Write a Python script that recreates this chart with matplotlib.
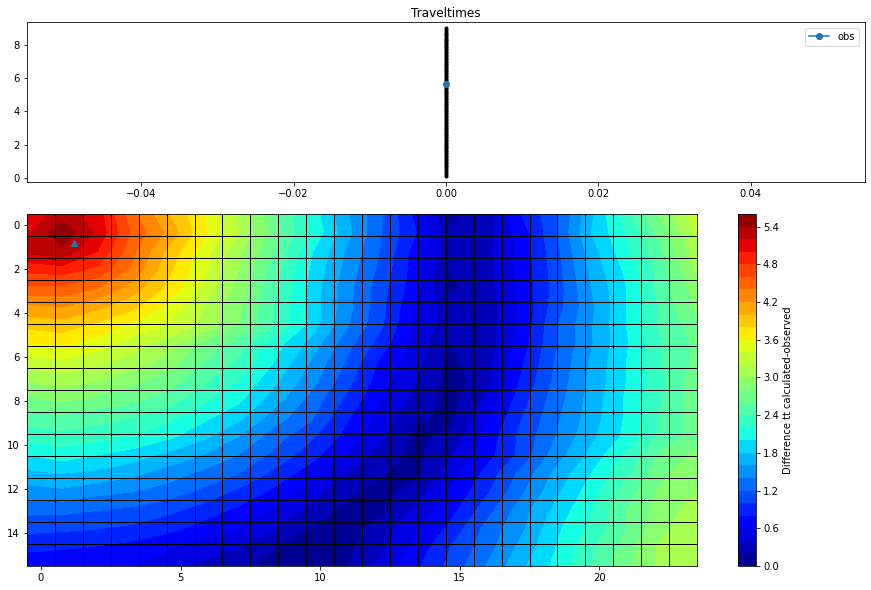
import numpy as np
import matplotlib
matplotlib.use('Agg')
import matplotlib.pyplot as plt

# ========== Data ==========

receiver_depths = [0.09, 0.22, 0.34, 0.46, 0.58, 0.68, 0.77, 0.86, 0.95, 1.04, 1.13, 1.22, 1.31, 1.4, 1.49,
                   1.58, 1.67, 1.76, 1.85, 1.94, 2.03, 2.12, 2.21, 2.3, 2.39, 2.48, 2.57, 2.66, 2.75, 2.84,
                   2.93, 3.02, 3.11, 3.2, 3.29, 3.38, 3.47, 3.56, 3.65, 3.74, 3.83, 3.92, 4.01, 4.1, 4.19,
                   4.28, 4.37, 4.46, 4.55, 4.64, 4.73, 4.82, 4.91, 5.0, 5.09, 5.18, 5.27, 5.36, 5.45, 5.54,
                   5.63, 5.72, 5.81, 5.9, 5.99, 6.08, 6.17, 6.26, 6.35, 6.44, 6.53, 6.62, 6.71, 6.8, 6.89,
                   6.98, 7.07, 7.16, 7.25, 7.34, 7.43, 7.52, 7.61, 7.7, 7.79, 7.88, 7.97, 8.06, 8.15, 8.24,
                   8.33, 8.42, 8.52, 8.62, 8.72, 8.84, 8.95, 9.06]
obs_x = [0.0]
obs_y = [5.65]
source_x = [1.18]
source_y = [0.82]

tt_diff = [
    [5.05, 5.30, 5.10, 4.45, 4.00, 3.60, 3.15, 2.65, 2.15, 1.65, 1.25, 0.75, 0.15, 0.25, 0.80, 1.15, 1.75, 2.35, 2.85, 3.35],
    [5.15, 5.55, 5.15, 4.55, 4.15, 3.65, 3.20, 2.70, 2.20, 1.70, 1.22, 0.82, 0.25, 0.32, 0.68, 1.17, 1.80, 2.20, 2.70, 3.25],
    [5.25, 5.35, 5.00, 4.45, 3.95, 3.50, 3.05, 2.60, 2.05, 1.60, 1.20, 0.72, 0.25, 0.33, 0.66, 1.13, 1.70, 2.15, 2.60, 3.10],
    [4.85, 4.90, 4.75, 4.35, 3.85, 3.45, 3.00, 2.50, 2.00, 1.55, 1.15, 0.70, 0.20, 0.33, 0.65, 1.10, 1.65, 2.05, 2.50, 3.05],
    [4.55, 4.55, 4.40, 4.10, 3.75, 3.35, 2.90, 2.45, 1.95, 1.50, 1.10, 0.68, 0.15, 0.32, 0.64, 1.08, 1.60, 2.00, 2.50, 2.90],
    [4.15, 4.20, 4.05, 3.85, 3.55, 3.20, 2.85, 2.40, 1.95, 1.50, 1.08, 0.60, 0.30, 0.27, 0.62, 1.10, 1.55, 2.00, 2.45, 2.85],
    [3.85, 3.90, 3.75, 3.55, 3.40, 3.15, 2.80, 2.40, 1.95, 1.45, 1.05, 0.55, 0.30, 0.30, 0.62, 1.18, 1.58, 2.00, 2.45, 2.70],
    [3.60, 3.65, 3.50, 3.30, 3.10, 2.75, 2.50, 2.10, 1.75, 1.30, 0.92, 0.52, 0.20, 0.28, 0.68, 1.18, 1.58, 1.97, 2.40, 2.65],
    [3.30, 3.35, 3.25, 3.10, 2.90, 2.60, 2.35, 2.00, 1.60, 1.20, 0.77, 0.47, 0.15, 0.32, 0.75, 1.22, 1.63, 2.00, 2.40, 2.65],
    [3.00, 3.10, 3.00, 2.85, 2.70, 2.45, 2.20, 1.85, 1.50, 1.10, 0.70, 0.40, 0.10, 0.30, 0.82, 1.25, 1.65, 2.00, 2.35, 2.75],
    [2.75, 2.85, 2.75, 2.65, 2.50, 2.25, 2.05, 1.70, 1.35, 0.98, 0.62, 0.35, 0.12, 0.42, 0.90, 1.30, 1.68, 2.03, 2.40, 2.72],
    [2.50, 2.55, 2.48, 2.40, 2.25, 2.05, 1.85, 1.50, 1.25, 0.85, 0.52, 0.24, 0.15, 0.55, 0.98, 1.35, 1.70, 2.03, 2.43, 2.70],
    [2.28, 2.33, 2.28, 2.20, 2.05, 1.85, 1.60, 1.30, 1.05, 0.75, 0.45, 0.15, 0.25, 0.65, 1.05, 1.40, 1.75, 2.05, 2.45, 2.70],
    [2.00, 2.10, 2.00, 1.90, 1.75, 1.60, 1.40, 1.15, 0.90, 0.60, 0.30, 0.15, 0.38, 0.70, 1.05, 1.50, 1.85, 2.25, 2.65, 2.85],
    [1.75, 1.80, 1.75, 1.65, 1.50, 1.35, 1.20, 0.95, 0.70, 0.40, 0.22, 0.12, 0.50, 0.85, 1.25, 1.65, 2.00, 2.35, 2.75, 2.95],
    [1.50, 1.55, 1.45, 1.40, 1.30, 1.15, 0.95, 0.75, 0.50, 0.25, 0.12, 0.30, 0.62, 0.95, 1.35, 1.75, 2.10, 2.50, 2.85, 3.00],
    [1.25, 1.25, 1.20, 1.15, 1.05, 0.90, 0.75, 0.55, 0.35, 0.15, 0.12, 0.45, 0.72, 1.10, 1.50, 1.85, 2.20, 2.60, 2.90, 3.10],
    [1.05, 1.03, 1.00, 0.95, 0.85, 0.72, 0.60, 0.40, 0.20, 0.08, 0.30, 0.55, 0.85, 1.25, 1.55, 1.95, 2.25, 2.60, 2.95, 3.15],
    [0.85, 0.82, 0.78, 0.72, 0.62, 0.50, 0.40, 0.20, 0.10, 0.12, 0.35, 0.65, 1.00, 1.30, 1.65, 2.00, 2.35, 2.70, 3.05, 3.15],
    [0.65, 0.65, 0.65, 0.60, 0.50, 0.35, 0.25, 0.12, 0.10, 0.18, 0.45, 0.75, 1.05, 1.40, 1.75, 2.05, 2.40, 2.75, 3.05, 3.15],
]

# ========== Figure ==========

W, H = 871, 590
fig = plt.figure(figsize=(W / 72, H / 72), dpi=72)


def px_axes(left, top, right, bottom):
    return fig.add_axes([left / W, 1 - bottom / H, (right - left) / W, (bottom - top) / H])


# traveltimes panel
ax1 = px_axes(27, 22, 865, 182)
ax1.plot(np.zeros(len(receiver_depths)), receiver_depths, 'k.', markersize=6)
ax1.plot(obs_x, obs_y, 'o-', label='obs')
ax1.set_xlim(-0.055, 0.055)
ax1.set_ylim(-0.27, 9.42)
ax1.set_xticks([-0.04, -0.02, 0.0, 0.02, 0.04])
ax1.set_yticks([0, 2, 4, 6, 8])
ax1.set_title('Traveltimes', pad=5)
ax1.legend(loc='upper right', borderaxespad=0.55, handletextpad=0.9)

# difference panel, contoured on a 20x20 mesh
ax2 = px_axes(27, 214, 697, 566)
data = np.array(tt_diff)
xs = np.linspace(-0.5, 23.5, data.shape[1])
ys = np.linspace(-0.5, 15.5, data.shape[0])
levels = np.arange(0, 5.8, 0.2)
cf = ax2.contourf(xs, ys, data, levels=levels, cmap='jet')
ax2.plot(source_x, source_y, '^')
for gx in np.arange(0.5, 23, 1):
    ax2.axvline(gx, color='k', lw=1)
for gy in np.arange(0.5, 15, 1):
    ax2.axhline(gy, color='k', lw=1)
ax2.set_xlim(-0.5, 23.5)
ax2.set_ylim(15.5, -0.5)
ax2.set_xticks([0, 5, 10, 15, 20])
ax2.set_yticks([0, 2, 4, 6, 8, 10, 12, 14])

cax = px_axes(738, 214, 756, 566)
cbar = fig.colorbar(cf, cax=cax, ticks=np.arange(0, 5.6, 0.6))
cbar.set_label('Difference tt calculated-observed')

fig.savefig('out.png', dpi=72)
